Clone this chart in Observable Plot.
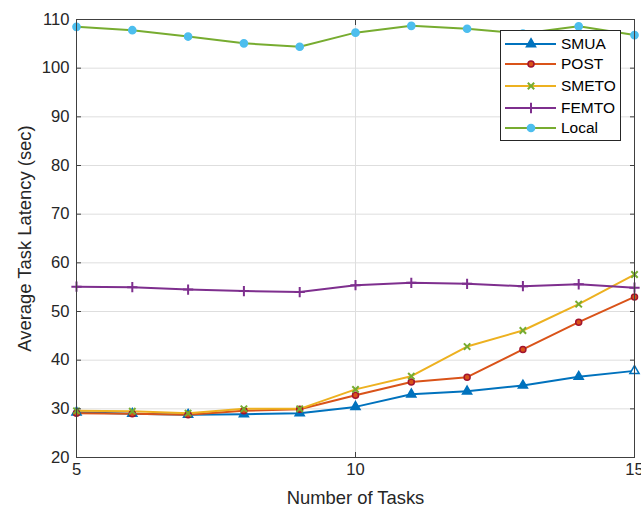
<!DOCTYPE html>
<html><head><meta charset="utf-8">
<script src="https://cdn.jsdelivr.net/npm/d3@7"></script>
<script src="https://cdn.jsdelivr.net/npm/@observablehq/plot@0.6"></script>
<style>
body{margin:0;background:#fff;font-family:"Liberation Sans",Arial,sans-serif}
#wrap{position:relative;width:641px;height:509px}
#legend{position:absolute;left:500px;top:30px;width:119px;height:109px;background:#fff;border:1px solid #262626;box-sizing:content-box}
.row{position:absolute;left:0;height:20px;display:flex;align-items:center;font-size:15.5px;color:#000}
.row svg{display:block}
</style>
</head><body><div id="wrap"><div id="legend"></div></div>
<script>
const tasks = [5, 6, 7, 8, 9, 10, 11, 12, 13, 14, 15];
const smua  = [29.3, 29.0, 28.8, 28.9, 29.1, 30.4, 33.0, 33.6, 34.8, 36.6, 37.8];
const post  = [29.1, 29.0, 28.8, 29.6, 29.9, 32.8, 35.5, 36.5, 42.2, 47.8, 53.0];
const smeto = [29.6, 29.5, 29.1, 30.0, 30.0, 34.0, 36.7, 42.8, 46.1, 51.5, 57.6];
const femto = [55.1, 55.0, 54.5, 54.2, 54.0, 55.4, 55.9, 55.7, 55.2, 55.6, 54.9];
const local = [108.5, 107.8, 106.5, 105.1, 104.4, 107.3, 108.7, 108.1, 107.1, 108.6, 106.8];
const xTicks = [5, 10, 15];
const yTicks = [20, 30, 40, 50, 60, 70, 80, 90, 100, 110];
const xLabel = "Number of Tasks";
const yLabel = "Average Task Latency (sec)";

const series = [
  {name: "SMUA",  values: smua,  line: "#0072BD", symbol: "triangle", fill: "#0072BD", stroke: "#0072BD", r: 3.4},
  {name: "POST",  values: post,  line: "#D95319", symbol: "circle",   fill: "#D95319", stroke: "#A2142F", r: 3},
  {name: "SMETO", values: smeto, line: "#EDB120", symbol: "times",    fill: "none",    stroke: "#77AC30", r: 3},
  {name: "FEMTO", values: femto, line: "#7E2F8E", symbol: "plus",     fill: "none",    stroke: "#7E2F8E", r: 3.4},
  {name: "Local", values: local, line: "#77AC30", symbol: "circle",   fill: "#4DBEEE", stroke: "#4DBEEE", r: 3.6}
];

const marks = [
  Plot.gridX(xTicks, {stroke: "#dedede", strokeOpacity: 1}),
  Plot.gridY(yTicks, {stroke: "#dedede", strokeOpacity: 1}),
];
for (const s of series) {
  const rows = tasks.map((t, i) => ({task: t, value: s.values[i]}));
  marks.push(Plot.line(rows, {x: "task", y: "value", stroke: s.line, strokeWidth: 2}));
}
for (const s of series) {
  const rows = tasks.map((t, i) => ({task: t, value: s.values[i], last: i === tasks.length - 1}));
  marks.push(Plot.dot(rows, {
    x: "task", y: "value", symbol: () => s.symbol, r: s.r,
    fill: s.name === "SMUA" ? (d => d.last ? "white" : s.fill) : s.fill,
    stroke: s.stroke, strokeWidth: s.fill === "none" ? 2 : 1.5
  }));
}
marks.push(
  Plot.frame({stroke: "#404040", strokeWidth: 1}),
  Plot.axisX(xTicks, {anchor: "bottom", tickSize: -5, tickFormat: () => "", stroke: "#404040", label: null}),
  Plot.axisX(xTicks, {anchor: "top", tickSize: -5, tickFormat: () => "", stroke: "#404040", label: null}),
  Plot.axisY(yTicks, {anchor: "left", tickSize: -5, tickFormat: () => "", stroke: "#404040", label: null}),
  Plot.axisY(yTicks, {anchor: "right", tickSize: -5, tickFormat: () => "", stroke: "#404040", label: null}),
  Plot.axisX(xTicks, {anchor: "bottom", tickSize: 0, tickPadding: 6, fontSize: 16.6, fill: "#262626", label: null}),
  Plot.axisY(yTicks, {anchor: "left", tickSize: 0, tickPadding: 7, fontSize: 16.6, fill: "#262626", label: null}),
  Plot.text([xLabel], {frameAnchor: "bottom", dy: 41, fontSize: 18.4, fill: "#262626", lineAnchor: "middle", textAnchor: "middle", text: d => d}),
  Plot.text([yLabel], {frameAnchor: "left", dx: -51, rotate: -90, fontSize: 18.4, fill: "#262626", lineAnchor: "middle", textAnchor: "middle", text: d => d})
);

const chart = Plot.plot({
  width: 641, height: 509,
  marginLeft: 76, marginRight: 7, marginTop: 19, marginBottom: 52,
  style: {fontFamily: "Liberation Sans, Arial, sans-serif", background: "#fff"},
  x: {domain: [5, 15], axis: null},
  y: {domain: [20, 110], axis: null},
  marks
});
const wrap = document.getElementById("wrap");
wrap.insertBefore(chart, wrap.firstChild);

const legend = d3.select("#legend");
const symMap = {triangle: d3.symbolTriangle, circle: d3.symbolCircle, times: d3.symbolTimes, plus: d3.symbolPlus};
const rowY = [3, 23, 45, 67, 87];
series.forEach((s, i) => {
  const row = legend.append("div").attr("class", "row").style("top", rowY[i] + "px");
  const svg = row.append("svg").attr("width", 60).attr("height", 20);
  svg.append("line").attr("x1", 4).attr("x2", 55).attr("y1", 10).attr("y2", 10)
    .attr("stroke", s.line).attr("stroke-width", 2);
  svg.append("path").attr("transform", "translate(30,10)")
    .attr("d", d3.symbol(symMap[s.symbol], Math.PI * s.r * s.r)())
    .attr("fill", s.fill).attr("stroke", s.stroke).attr("stroke-width", s.fill === "none" ? 2 : 1.5);
  row.append("span").text(s.name);
});
</script>
</body></html>
